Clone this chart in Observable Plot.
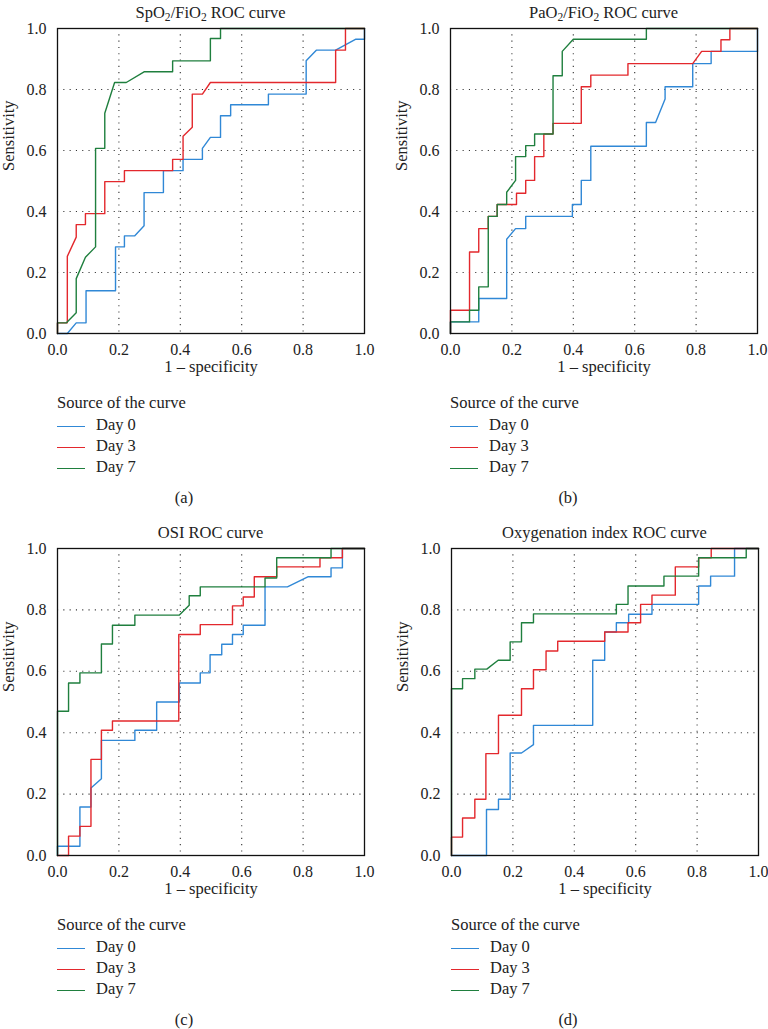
<!DOCTYPE html>
<html><head><meta charset="utf-8">
<script src="https://cdn.jsdelivr.net/npm/d3@7"></script>
<script src="https://cdn.jsdelivr.net/npm/@observablehq/plot@0.6"></script>
<style>
body{margin:0;background:#fff;}
#root{position:relative;width:768px;height:1029px;font-family:"Liberation Serif",serif;color:#222;overflow:hidden;}
.abs{position:absolute;white-space:nowrap;}
.title{font-size:16.5px;text-align:center;width:340px;line-height:18px;}
sub{font-size:0.7em;vertical-align:-0.3em;line-height:0;}
.leg{font-size:16.5px;line-height:18px;}
.cap{font-size:16.5px;line-height:14px;height:14px;}
.sw{position:absolute;width:28px;height:0;border-top:1.6px solid;}
svg{position:absolute;overflow:visible;}
</style></head><body><div id="root"></div>
<script>
// ---- data ----
const seriesNames = ["Day 0", "Day 3", "Day 7"];
const seriesColors = ["#3088d6", "#e3282d", "#1f7f3e"];
const gridTicks = [0.2, 0.4, 0.6, 0.8];
const axisTicks = [0, 0.2, 0.4, 0.6, 0.8, 1];
const xLabel = "1 – specificity";
const yLabel = "Sensitivity";
const legendTitle = "Source of the curve";
const panelTitles = ["SpO<sub>2</sub>/FiO<sub>2</sub> ROC curve", "PaO<sub>2</sub>/FiO<sub>2</sub> ROC curve", "OSI ROC curve", "Oxygenation index ROC curve"];
const panelCaptions = ["(a)", "(b)", "(c)", "(d)"];

// (a) SpO2/FiO2
const spo2Day0 = [[0,0],[0.032,0],[0.061,0.035],[0.093,0.035],[0.093,0.14],[0.189,0.14],[0.189,0.284],[0.218,0.284],[0.218,0.32],[0.251,0.32],[0.282,0.353],[0.282,0.462],[0.345,0.462],[0.345,0.534],[0.409,0.534],[0.409,0.571],[0.472,0.571],[0.472,0.607],[0.498,0.643],[0.531,0.643],[0.531,0.714],[0.564,0.714],[0.564,0.75],[0.687,0.75],[0.687,0.785],[0.81,0.785],[0.81,0.894],[0.843,0.929],[0.906,0.929],[0.972,0.965],[1,0.965],[1,1]];
const spo2Day3 = [[0,0],[0,0.035],[0.032,0.035],[0.032,0.253],[0.061,0.316],[0.061,0.357],[0.091,0.357],[0.091,0.393],[0.154,0.393],[0.154,0.498],[0.218,0.498],[0.218,0.534],[0.375,0.534],[0.375,0.571],[0.409,0.571],[0.409,0.647],[0.439,0.676],[0.439,0.785],[0.472,0.785],[0.498,0.823],[0.906,0.823],[0.906,0.929],[0.938,0.929],[0.938,1],[1,1]];
const spo2Day7 = [[0,0],[0,0.035],[0.029,0.035],[0.061,0.068],[0.061,0.18],[0.091,0.25],[0.124,0.284],[0.124,0.607],[0.154,0.607],[0.154,0.722],[0.186,0.823],[0.224,0.823],[0.282,0.858],[0.375,0.858],[0.375,0.894],[0.498,0.894],[0.498,0.967],[0.531,0.967],[0.531,1],[1,1]];

// (b) PaO2/FiO2
const pao2Day0 = [[0,0],[0,0.038],[0.092,0.038],[0.092,0.115],[0.183,0.115],[0.183,0.309],[0.212,0.344],[0.245,0.344],[0.245,0.384],[0.397,0.384],[0.397,0.423],[0.426,0.423],[0.426,0.502],[0.457,0.502],[0.457,0.614],[0.638,0.614],[0.638,0.692],[0.668,0.692],[0.699,0.769],[0.699,0.809],[0.789,0.809],[0.789,0.885],[0.849,0.885],[0.849,0.925],[1,0.925],[1,1]];
const pao2Day3 = [[0,0],[0,0.076],[0.062,0.076],[0.062,0.267],[0.092,0.267],[0.092,0.344],[0.123,0.344],[0.123,0.384],[0.152,0.384],[0.152,0.423],[0.215,0.423],[0.215,0.46],[0.245,0.46],[0.245,0.502],[0.274,0.502],[0.274,0.58],[0.304,0.58],[0.304,0.654],[0.334,0.654],[0.334,0.689],[0.426,0.689],[0.426,0.809],[0.457,0.809],[0.457,0.847],[0.578,0.847],[0.578,0.885],[0.789,0.885],[0.818,0.925],[0.881,0.925],[0.881,0.963],[0.91,0.963],[0.91,1],[1,1]];
const pao2Day7 = [[0,0],[0,0.038],[0.062,0.038],[0.062,0.076],[0.092,0.076],[0.092,0.153],[0.123,0.153],[0.123,0.384],[0.152,0.384],[0.152,0.423],[0.183,0.423],[0.183,0.463],[0.212,0.502],[0.212,0.58],[0.245,0.58],[0.245,0.616],[0.274,0.616],[0.274,0.654],[0.334,0.654],[0.334,0.845],[0.364,0.845],[0.364,0.925],[0.4,0.965],[0.638,0.965],[0.638,1],[1,1]];

// (c) OSI
const osiDay0 = [[0,0],[0,0.03],[0.073,0.03],[0.073,0.158],[0.109,0.158],[0.109,0.22],[0.143,0.25],[0.143,0.375],[0.252,0.375],[0.252,0.408],[0.323,0.408],[0.323,0.5],[0.397,0.5],[0.397,0.562],[0.465,0.562],[0.465,0.595],[0.497,0.595],[0.497,0.654],[0.535,0.654],[0.535,0.688],[0.57,0.688],[0.57,0.72],[0.605,0.72],[0.605,0.75],[0.676,0.75],[0.676,0.875],[0.749,0.875],[0.817,0.908],[0.891,0.908],[0.891,0.937],[0.928,0.937],[0.928,1],[1,1]];
const osiDay3 = [[0,0],[0.036,0],[0.036,0.063],[0.073,0.063],[0.073,0.095],[0.109,0.095],[0.109,0.313],[0.143,0.313],[0.143,0.408],[0.179,0.408],[0.179,0.438],[0.395,0.438],[0.395,0.72],[0.465,0.72],[0.465,0.752],[0.57,0.752],[0.57,0.813],[0.605,0.813],[0.605,0.842],[0.641,0.842],[0.641,0.908],[0.714,0.908],[0.714,0.94],[0.855,0.94],[0.855,0.97],[0.928,0.97],[0.928,1],[1,1]];
const osiDay7 = [[0,0],[0,0.47],[0.036,0.47],[0.036,0.562],[0.073,0.562],[0.073,0.595],[0.143,0.595],[0.143,0.689],[0.179,0.689],[0.179,0.75],[0.252,0.75],[0.252,0.783],[0.397,0.783],[0.429,0.815],[0.429,0.846],[0.465,0.846],[0.465,0.875],[0.676,0.875],[0.676,0.904],[0.714,0.904],[0.714,0.97],[0.891,0.97],[0.891,1],[1,1]];

// (d) Oxygenation index
const oiDay0 = [[0,0],[0.114,0],[0.114,0.15],[0.153,0.15],[0.153,0.183],[0.191,0.183],[0.191,0.334],[0.228,0.334],[0.267,0.361],[0.267,0.424],[0.46,0.424],[0.46,0.636],[0.499,0.636],[0.499,0.728],[0.537,0.728],[0.537,0.758],[0.577,0.758],[0.577,0.786],[0.653,0.786],[0.653,0.818],[0.805,0.818],[0.805,0.878],[0.844,0.878],[0.844,0.91],[0.922,0.91],[0.922,1],[1,1]];
const oiDay3 = [[0,0],[0,0.06],[0.036,0.06],[0.036,0.122],[0.076,0.122],[0.076,0.183],[0.112,0.183],[0.112,0.332],[0.153,0.332],[0.153,0.457],[0.228,0.457],[0.228,0.543],[0.267,0.543],[0.267,0.605],[0.308,0.605],[0.308,0.666],[0.346,0.666],[0.346,0.698],[0.499,0.698],[0.499,0.728],[0.575,0.728],[0.575,0.758],[0.616,0.758],[0.616,0.818],[0.653,0.818],[0.653,0.848],[0.729,0.848],[0.729,0.94],[0.805,0.94],[0.805,0.97],[0.846,0.97],[0.846,1],[1,1]];
const oiDay7 = [[0,0],[0,0.543],[0.036,0.543],[0.036,0.576],[0.076,0.576],[0.076,0.607],[0.115,0.607],[0.152,0.636],[0.191,0.636],[0.191,0.696],[0.228,0.696],[0.228,0.758],[0.267,0.758],[0.267,0.787],[0.537,0.787],[0.537,0.818],[0.575,0.818],[0.575,0.878],[0.692,0.878],[0.692,0.91],[0.805,0.91],[0.805,0.97],[0.96,0.97],[0.96,1],[1,1]];

const panelData = [
  [spo2Day0, spo2Day3, spo2Day7],
  [pao2Day0, pao2Day3, pao2Day7],
  [osiDay0, osiDay3, osiDay7],
  [oiDay0, oiDay3, oiDay7]
];

// ---- layout ----
const layout = [
  {left: 0,   top: 18,  mL: 57, mR: 20, h: 305, plotTop: 28},
  {left: 384, top: 18,  mL: 66, mR: 11, h: 305, plotTop: 28},
  {left: 0,   top: 538, mL: 57, mR: 20, h: 307, plotTop: 548},
  {left: 384, top: 538, mL: 67, mR: 10, h: 307, plotTop: 548}
];
const MT = 10, MB = 50;
const root = document.getElementById("root");
const fmt = d3.format(".1f");

function addDiv(cls, html, style) {
  const d = document.createElement("div");
  d.className = "abs " + cls;
  d.innerHTML = html;
  Object.assign(d.style, style);
  root.appendChild(d);
  return d;
}

layout.forEach((p, k) => {
  const rows = panelData[k].flatMap((pts, i) => pts.map(([x, y]) => ({x, y, s: seriesNames[i]})));
  const chart = Plot.plot({
    width: 384, height: MT + p.h + MB,
    marginLeft: p.mL, marginRight: p.mR, marginTop: MT, marginBottom: MB,
    style: {fontFamily: "'Liberation Serif', serif", fontSize: "16px", color: "#222", background: "transparent"},
    x: {domain: [0, 1]},
    y: {domain: [0, 1]},
    color: {domain: seriesNames, range: seriesColors},
    marks: [
      Plot.gridX(gridTicks, {stroke: "#333", strokeOpacity: 1, strokeWidth: 1.1, strokeDasharray: "1.1,5.2"}),
      Plot.gridY(gridTicks, {stroke: "#333", strokeOpacity: 1, strokeWidth: 1.1, strokeDasharray: "1.1,5.2"}),
      Plot.line(rows, {x: "x", y: "y", z: "s", stroke: "s", strokeWidth: 1.4}),
      Plot.frame({stroke: "#111", strokeWidth: 1.3}),
      Plot.axisX(axisTicks, {tickSize: 0, tickPadding: 10, tickFormat: fmt, label: null, fontSize: 16}),
      Plot.axisY(axisTicks, {tickSize: 0, tickPadding: 11, tickFormat: fmt, label: null, fontSize: 16}),
      Plot.text([xLabel], {frameAnchor: "bottom", dy: 38, fontSize: 16.5}),
      Plot.text([yLabel], {frameAnchor: "left", dx: -49, dy: -10, rotate: -90, fontSize: 16.5})
    ]
  });
  chart.style.left = p.left + "px";
  chart.style.top = p.top + "px";
  root.appendChild(chart);

  const plotLeft = p.left + p.mL;
  const plotCenter = plotLeft + 153.5;
  const plotBottom = p.plotTop + p.h;
  addDiv("title", panelTitles[k], {left: (plotCenter - 170) + "px", top: (p.plotTop - 24) + "px"});
  // legend
  addDiv("leg", legendTitle, {left: plotLeft + "px", top: (plotBottom + 61) + "px"});
  seriesNames.forEach((name, i) => {
    const y = plotBottom + 93 + i * 21;
    const sw = document.createElement("div");
    sw.className = "sw";
    sw.style.left = (plotLeft) + "px";
    sw.style.top = y + "px";
    sw.style.borderTopColor = seriesColors[i];
    root.appendChild(sw);
    addDiv("leg", name, {left: (plotLeft + 39) + "px", top: (y - 10) + "px"});
  });
  addDiv("cap", panelCaptions[k], {left: (p.left + 184 - 20) + "px", width: "40px", textAlign: "center", top: (plotBottom + 158) + "px"});
});
</script></body></html>
